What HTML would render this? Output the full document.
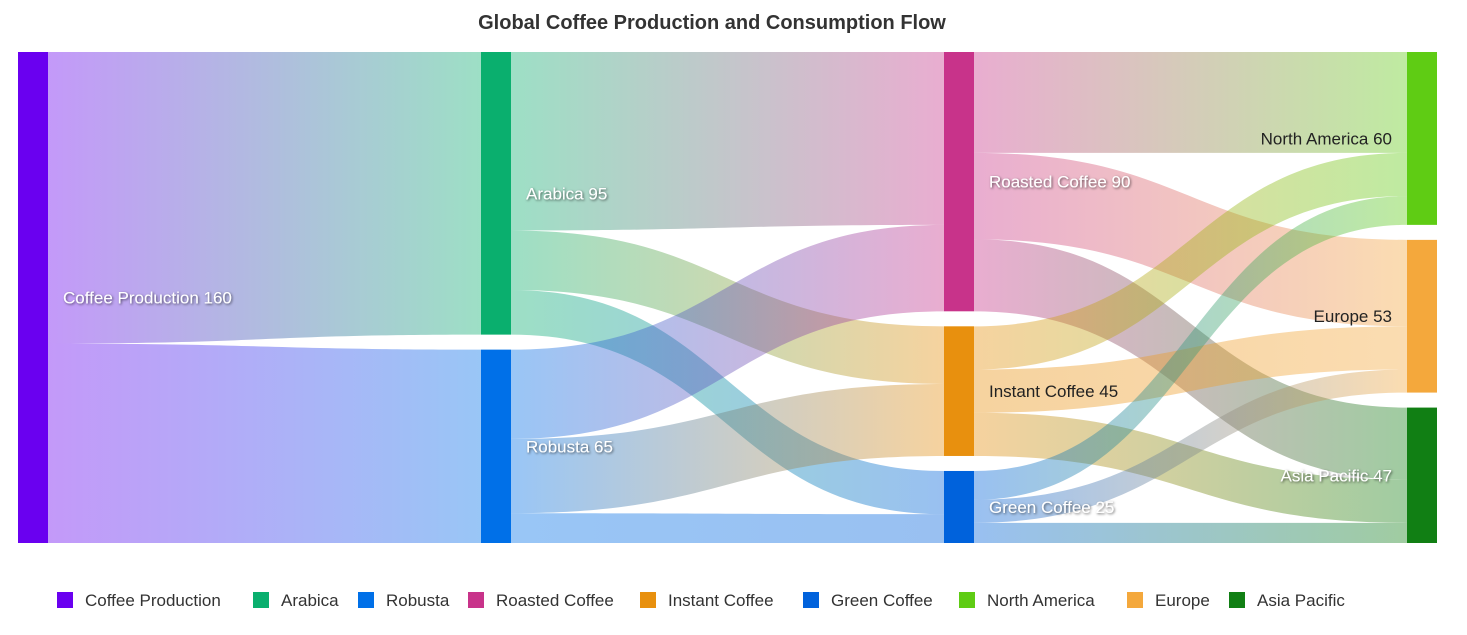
<!DOCTYPE html>
<html><head><meta charset="utf-8"><style>
body{margin:0;background:#fff;font-family:"Liberation Sans","DejaVu Sans",sans-serif;}
svg text{font-family:"Liberation Sans","DejaVu Sans",sans-serif;}
</style></head><body>
<svg id="chart" width="1467" height="630" xmlns="http://www.w3.org/2000/svg">
<defs id="defs"><filter id="sh" x="-10%" y="-50%" width="120%" height="200%"><feDropShadow dx="1" dy="1" stdDeviation="1.2" flood-color="#000" flood-opacity="0.6"/></filter></defs>
<text x="712" y="29" text-anchor="middle" font-size="20" font-weight="bold" fill="#333">Global Coffee Production and Consumption Flow</text>
<g id="links"></g><g id="nodes"></g><g id="labels"></g><g id="legend"></g>
</svg>
<script>
const nodeNames = ["Coffee Production","Arabica","Robusta","Roasted Coffee","Instant Coffee","Green Coffee","North America","Europe","Asia Pacific"];
const nodeColumns = [0,1,1,2,2,2,3,3,3];
const nodeColors = ["#6a00f0","#0aaf6e","#0070e8","#c8338a","#e8900e","#0062dc","#5fcc14","#f4a83c","#117f14"];
const linkSources = [0,0,1,1,1,2,2,2,3,3,3,4,4,4,5,5,5];
const linkTargets = [1,2,3,4,5,3,4,5,6,7,8,6,7,8,6,7,8];
const linkValues = [95,65,60,20,15,30,25,10,35,30,25,15,15,15,10,8,7];
const legendX = [57,253,358,468,640,803,959,1127,1229];
const darkLabel = [false,false,false,false,true,false,true,true,false];

const NS="http://www.w3.org/2000/svg";
const top0=52, bot0=543, gap=15, nodeW=30;
const colX=[18,481,944,1407];
function mk(tag,attrs,parent){const e=document.createElementNS(NS,tag);for(const k in attrs)e.setAttribute(k,attrs[k]);parent.appendChild(e);return e;}
const nIn=nodeNames.map(()=>0), nOut=nodeNames.map(()=>0);
linkValues.forEach((v,i)=>{nOut[linkSources[i]]+=v;nIn[linkTargets[i]]+=v;});
const nVal=nodeNames.map((_,i)=>Math.max(nIn[i],nOut[i]));
const ny0=[],nh=[];
for(let c=0;c<4;c++){
  const ids=nodeNames.map((_,i)=>i).filter(i=>nodeColumns[i]===c);
  const tot=ids.reduce((s,i)=>s+nVal[i],0);
  const k=(bot0-top0-gap*(ids.length-1))/tot;
  let y=top0;
  ids.forEach(i=>{ny0[i]=y;nh[i]=nVal[i]*k;y+=nh[i]+gap;});
}
const outOff=nodeNames.map(()=>0), inOff=nodeNames.map(()=>0);
const defs=document.getElementById('defs');
const gl=document.getElementById('links');
const order=linkValues.map((_,i)=>i);
const sy=[],ty=[];
order.forEach(i=>{const s=linkSources[i];sy[i]=ny0[s]+outOff[s];outOff[s]+=nh[s]*linkValues[i]/nVal[s];});
order.slice().sort((a,b)=>ny0[linkSources[a]]-ny0[linkSources[b]]||a-b).forEach(i=>{const t=linkTargets[i];ty[i]=ny0[t]+inOff[t];inOff[t]+=nh[t]*linkValues[i]/nVal[t];});
order.forEach(i=>{
  const s=linkSources[i],t=linkTargets[i];
  const x0=colX[nodeColumns[s]]+nodeW,x1=colX[nodeColumns[t]],xm=(x0+x1)/2;
  const ws=nh[s]*linkValues[i]/nVal[s], wt=nh[t]*linkValues[i]/nVal[t];
  const g=mk('linearGradient',{id:'g'+i,gradientUnits:'userSpaceOnUse',x1:x0,x2:x1,y1:0,y2:0},defs);
  mk('stop',{offset:'0','stop-color':nodeColors[s]},g);mk('stop',{offset:'1','stop-color':nodeColors[t]},g);
  const a=sy[i],b=ty[i];
  const d=`M${x0},${a}C${xm},${a} ${xm},${b} ${x1},${b}L${x1},${b+wt}C${xm},${b+wt} ${xm},${a+ws} ${x0},${a+ws}Z`;
  const p=mk('path',{d:d,fill:'url(#g'+i+')','fill-opacity':'0.4'},gl);
  
  
});
const gn=document.getElementById('nodes'),glb=document.getElementById('labels'),lg=document.getElementById('legend');
nodeNames.forEach((n,i)=>{
  const c=nodeColumns[i],x=colX[c];
  const slug=n.toLowerCase().replace(/ /g,'-');
  const r=mk('rect',{x:x,y:ny0[i],width:nodeW,height:nh[i],fill:nodeColors[i]},gn);
  
  
  const last=c===3;
  const t=mk('text',{x:last?x-15:x+nodeW+15,y:ny0[i]+nh[i]/2+6,'text-anchor':last?'end':'start','font-size':'17',fill:darkLabel[i]?'#222':'#fff'},glb);
  if(!darkLabel[i]){t.setAttribute('filter','url(#sh)');}
  t.textContent=n+' '+nVal[i];
  
  
  const item=mk('g',{},lg);
  
  
  mk('rect',{x:legendX[i],y:592,width:16,height:16,fill:nodeColors[i]},item);
  const lt=mk('text',{x:legendX[i]+28,y:606,'font-size':'17',fill:'#333'},item);
  lt.textContent=n;
});
</script>
</body></html>
